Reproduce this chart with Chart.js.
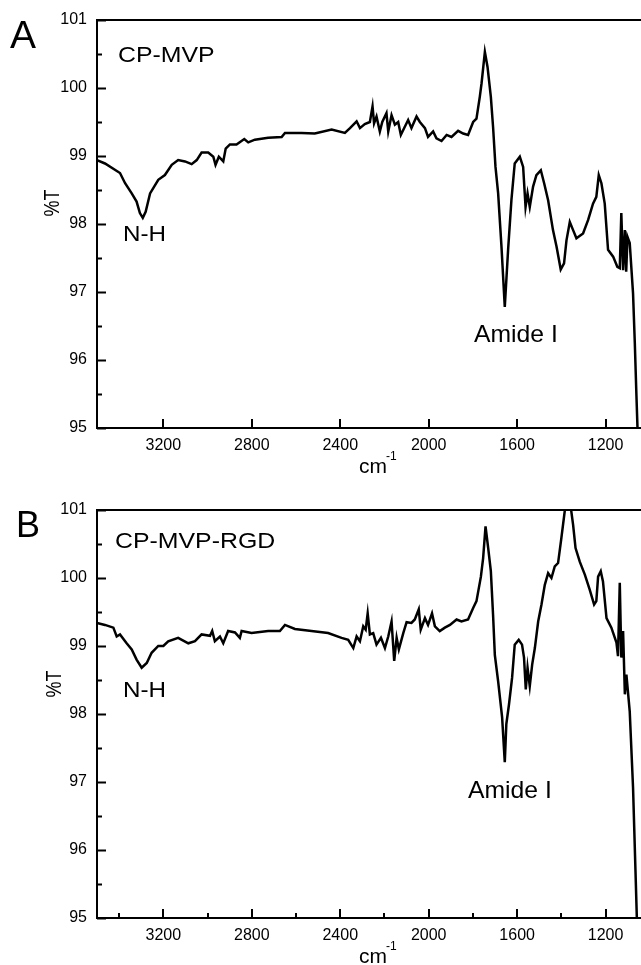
<!DOCTYPE html>
<html>
<head>
<meta charset="utf-8">
<script src="https://cdn.jsdelivr.net/npm/chart.js@4.4.1/dist/chart.umd.min.js"></script>
<style>
  html, body { margin: 0; padding: 0; background: #fff; }
  #wrap { position: relative; width: 641px; height: 965px; overflow: hidden; }
  canvas { position: absolute; left: 0; }
</style>
</head>
<body>
<div id="wrap">
  <canvas id="chartA" width="641" height="490" style="top:0px"></canvas>
  <canvas id="chartB" width="641" height="475" style="top:490px"></canvas>
</div>
<script>
// axis ticks
const xTickValues = [3200, 2800, 2400, 2000, 1600, 1200];
const xMinorValues = [3400, 3000, 2600, 2200, 1800, 1400];
const yTickValues = [95, 96, 97, 98, 99, 100, 101];
const yMinorValues = [95.5, 96.5, 97.5, 98.5, 99.5, 100.5];

// Panel A: CP-MVP (wavenumber, %T)
const waveA = [3500, 3464, 3396, 3373, 3343, 3321, 3306, 3293, 3280, 3260, 3223, 3193, 3162, 3133, 3102, 3072,
  3049, 3027, 2997, 2974, 2964, 2949, 2929, 2918, 2899, 2869, 2834, 2816, 2786, 2726, 2665, 2650, 2575, 2515,
  2439, 2379, 2356, 2326, 2311, 2289, 2266, 2254, 2247, 2236, 2221, 2210, 2191, 2183, 2168, 2153, 2138, 2126,
  2108, 2093, 2078, 2055, 2040, 2017, 2003, 1980, 1965, 1942, 1919, 1897, 1867, 1844, 1822, 1799, 1784, 1769,
  1761, 1746, 1734, 1719, 1709, 1698, 1686, 1671, 1656, 1641, 1626, 1611, 1588, 1573, 1562, 1553, 1543, 1528,
  1513, 1493, 1478, 1460, 1438, 1422, 1403, 1388, 1377, 1362, 1347, 1332, 1302, 1279, 1257, 1242, 1231, 1219,
  1204, 1189, 1166, 1147, 1136, 1129, 1121, 1113, 1107, 1101, 1091, 1076, 1068, 1061, 1056, 1052];
const transA = [98.94, 98.89, 98.75, 98.60, 98.45, 98.33, 98.16, 98.09, 98.18, 98.45, 98.65, 98.72, 98.87, 98.94, 98.92, 98.88,
  98.94, 99.05, 99.05, 98.99, 98.87, 98.99, 98.92, 99.11, 99.17, 99.17, 99.25, 99.20, 99.24, 99.27, 99.28, 99.34, 99.34, 99.33,
  99.39, 99.34, 99.41, 99.51, 99.41, 99.47, 99.50, 99.73, 99.48, 99.58, 99.36, 99.50, 99.63, 99.36, 99.60, 99.46, 99.50, 99.31,
  99.43, 99.53, 99.41, 99.58, 99.50, 99.41, 99.28, 99.36, 99.26, 99.22, 99.31, 99.28, 99.37, 99.33, 99.31, 99.50, 99.55, 99.87,
  100.07, 100.53, 100.31, 99.87, 99.43, 98.84, 98.45, 97.67, 96.78, 97.62, 98.35, 98.89, 98.99, 98.84, 98.25, 98.45, 98.25, 98.55,
  98.72, 98.79, 98.60, 98.35, 97.91, 97.67, 97.33, 97.42, 97.76, 98.03, 97.91, 97.79, 97.86, 98.06, 98.30, 98.40, 98.72, 98.60,
  98.30, 97.62, 97.52, 97.37, 97.35, 98.16, 97.32, 97.91, 97.30, 97.81, 97.72, 96.98, 96.25, 95.51, 95.02, 94.6];

// Panel B: CP-MVP-RGD (wavenumber, %T)
const waveB = [3500, 3464, 3426, 3411, 3396, 3366, 3343, 3321, 3298, 3275, 3253, 3223, 3200, 3178, 3133, 3087,
  3057, 3027, 2989, 2979, 2967, 2944, 2929, 2907, 2876, 2854, 2846, 2801, 2726, 2673, 2650, 2605, 2530, 2455,
  2394, 2364, 2341, 2326, 2311, 2296, 2285, 2276, 2266, 2251, 2236, 2216, 2198, 2183, 2168, 2156, 2145, 2135,
  2115, 2100, 2078, 2063, 2045, 2036, 2017, 2003, 1985, 1972, 1950, 1927, 1904, 1874, 1852, 1822, 1799, 1784,
  1764, 1754, 1743, 1731, 1719, 1709, 1701, 1686, 1668, 1656, 1649, 1637, 1623, 1611, 1593, 1578, 1569, 1561,
  1553, 1543, 1532, 1520, 1505, 1490, 1475, 1460, 1445, 1430, 1415, 1400, 1385, 1377, 1365, 1358, 1347, 1336,
  1317, 1294, 1272, 1252, 1242, 1234, 1222, 1212, 1196, 1174, 1151, 1144, 1136, 1129, 1121, 1113, 1106, 1091,
  1076, 1065, 1059, 1055];
const transB = [99.34, 99.31, 99.27, 99.14, 99.17, 99.04, 98.95, 98.80, 98.68, 98.75, 98.90, 99.00, 99.00, 99.07, 99.12, 99.04,
  99.07, 99.17, 99.15, 99.22, 99.07, 99.14, 99.04, 99.22, 99.20, 99.12, 99.22, 99.19, 99.22, 99.22, 99.31, 99.25, 99.22, 99.19,
  99.12, 99.09, 98.97, 99.14, 99.07, 99.29, 99.24, 99.48, 99.17, 99.19, 99.02, 99.12, 98.97, 99.14, 99.36, 98.78, 99.12, 98.95,
  99.19, 99.35, 99.34, 99.39, 99.54, 99.24, 99.41, 99.31, 99.48, 99.29, 99.22, 99.27, 99.31, 99.39, 99.36, 99.39, 99.56, 99.66,
  100.02, 100.29, 100.76, 100.44, 100.10, 99.46, 98.87, 98.48, 97.95, 97.29, 97.85, 98.14, 98.53, 99.02, 99.09, 99.02, 98.83, 98.36,
  98.68, 98.41, 98.73, 98.97, 99.36, 99.61, 99.90, 100.07, 100.00, 100.17, 100.22, 100.59, 100.98, 101.25, 101.2, 101.05, 100.78, 100.44,
  100.24, 100.05, 99.83, 99.61, 99.66, 100.02, 100.10, 99.95, 99.41, 99.27, 99.05, 98.85, 99.93, 98.83, 99.22, 98.29, 98.58, 98.04,
  96.92, 95.70, 95.02, 94.6];

const FONT = '"Liberation Sans", Arial, Helvetica, sans-serif';

function drawText(ctx, txt, x, y, size, sx) {
  ctx.save();
  ctx.translate(x, y);
  ctx.scale(sx, 1);
  ctx.font = size + 'px ' + FONT;
  ctx.fillStyle = '#000';
  ctx.textBaseline = 'alphabetic';
  ctx.textAlign = 'left';
  ctx.fillText(txt, 0, 0);
  ctx.restore();
}

function makePanel(id, wave, trans, deco) {
  const canvas = document.getElementById(id);
  const H = canvas.height;
  const points = wave.map((w, i) => ({ x: w, y: trans[i] }));

  const decoPlugin = {
    id: 'deco' + id,
    afterDraw(chart) {
      const ctx = chart.ctx;
      const area = chart.chartArea;
      const xs = chart.scales.x, ys = chart.scales.y;
      ctx.save();
      ctx.strokeStyle = '#000';
      ctx.lineWidth = 2;
      // top frame line
      ctx.beginPath();
      ctx.moveTo(area.left - 1, area.top);
      ctx.lineTo(area.right, area.top);
      ctx.stroke();
      // inward ticks
      ctx.beginPath();
      yTickValues.forEach(v => {
        const py = Math.round(ys.getPixelForValue(v)) + 0.5;
        ctx.moveTo(area.left, py); ctx.lineTo(area.left + 9, py);
      });
      yMinorValues.forEach(v => {
        const py = Math.round(ys.getPixelForValue(v)) + 0.5;
        ctx.moveTo(area.left, py); ctx.lineTo(area.left + 5, py);
      });
      xTickValues.forEach(v => {
        const px = Math.round(xs.getPixelForValue(v));
        ctx.moveTo(px, area.bottom); ctx.lineTo(px, area.bottom - 9);
      });
      if (deco.minorX) {
        xMinorValues.forEach(v => {
          const px = Math.round(xs.getPixelForValue(v));
          ctx.moveTo(px, area.bottom); ctx.lineTo(px, area.bottom - 5);
        });
      }
      ctx.stroke();
      ctx.restore();

      // labels
      drawText(ctx, deco.letter, deco.letterX, deco.letterY, deco.letterSize, 1);
      drawText(ctx, deco.name, deco.nameX, deco.nameY, 22, 1.13);
      drawText(ctx, 'N-H', deco.nhX, deco.nhY, 22, 1.1);
      drawText(ctx, 'Amide I', deco.amX, deco.amY, 24, 1.03);

      // y title %T, rotated
      ctx.save();
      ctx.translate(deco.yTitleX, deco.yTitleY);
      ctx.rotate(-Math.PI / 2);
      ctx.scale(1, 1.2);
      ctx.font = '18px ' + FONT;
      ctx.fillStyle = '#000';
      ctx.textAlign = 'center';
      ctx.textBaseline = 'middle';
      ctx.fillText('%T', 0, 0);
      ctx.restore();

      // x title cm^-1
      drawText(ctx, 'cm', 359, 473, 20, 1.05);
      drawText(ctx, '-1', 386, 460, 12, 1);
    }
  };

  return new Chart(canvas, {
    type: 'line',
    data: {
      datasets: [{
        data: points,
        borderColor: '#000',
        borderWidth: 2.5,
        pointRadius: 0,
        tension: 0,
        fill: false
      }]
    },
    options: {
      responsive: false,
      animation: false,
      layout: { padding: { top: 20, left: 0, right: 0, bottom: 0 } },
      plugins: { legend: { display: false }, tooltip: { enabled: false } },
      scales: {
        x: {
          type: 'linear',
          reverse: true,
          min: 1040,
          max: 3500,
          grid: { display: false, drawTicks: false },
          border: { display: true, color: '#000', width: 2 },
          afterBuildTicks: s => { s.ticks = xTickValues.map(v => ({ value: v })); },
          afterFit: s => { s.height = H - 20 - 408; },
          ticks: {
            color: '#000',
            padding: 8,
            maxRotation: 0,
            autoSkip: false,
            font: { family: FONT, size: 16 },
            callback: v => String(v)
          }
        },
        y: {
          type: 'linear',
          min: 95,
          max: 101,
          grid: { display: false, drawTicks: false },
          border: { display: true, color: '#000', width: 2 },
          afterBuildTicks: s => { s.ticks = yTickValues.map(v => ({ value: v })); },
          afterFit: s => { s.width = 97; },
          ticks: {
            color: '#000',
            padding: 10,
            font: { family: FONT, size: 16 },
            callback: v => String(v)
          }
        }
      }
    },
    plugins: [decoPlugin]
  });
}

makePanel('chartA', waveA, transA, {
  letter: 'A', letterX: 10, letterY: 48, letterSize: 39,
  name: 'CP-MVP', nameX: 118, nameY: 62,
  nhX: 123, nhY: 241,
  amX: 474, amY: 342,
  yTitleX: 53, yTitleY: 203,
  minorX: false
});

makePanel('chartB', waveB, transB, {
  letter: 'B', letterX: 16, letterY: 47, letterSize: 36,
  name: 'CP-MVP-RGD', nameX: 115, nameY: 58,
  nhX: 123, nhY: 207,
  amX: 468, amY: 308,
  yTitleX: 55, yTitleY: 194,
  minorX: true
});
</script>
</body>
</html>
